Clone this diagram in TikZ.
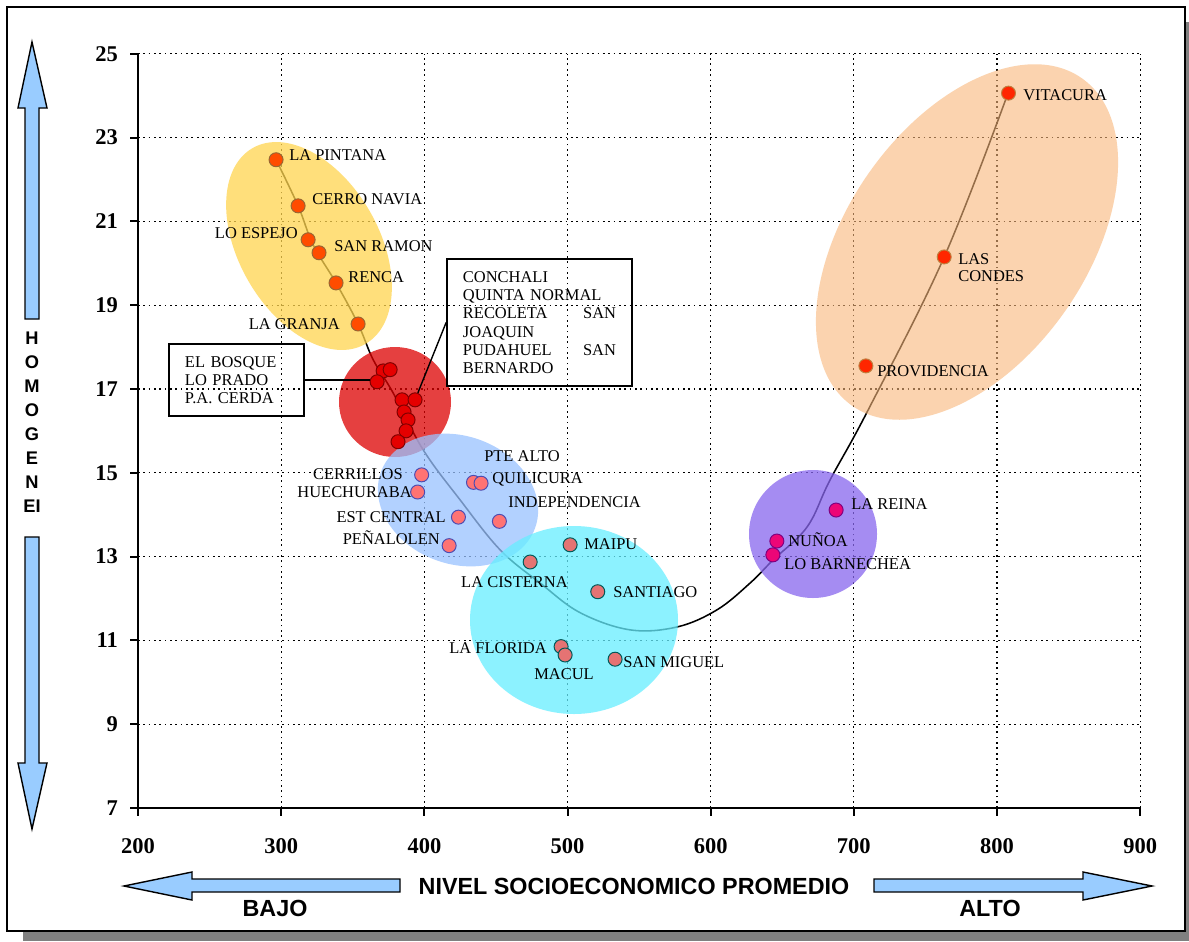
\documentclass[tikz,border=0pt]{standalone}
\usepackage{fontspec}
\setmainfont{Liberation Serif}
\setsansfont{Liberation Sans}
\usetikzlibrary{calc}
\definecolor{zamarilla}{HTML}{FFD54F}
\definecolor{zroja}{HTML}{DD0000}
\definecolor{zazul}{HTML}{99C2FF}
\definecolor{zcyan}{HTML}{66EEFF}
\definecolor{zlila}{HTML}{8866EE}
\definecolor{znaranja}{HTML}{F9B77A}
\definecolor{flechaazul}{HTML}{99CCFF}
\newcommand{\comuna}[4] % name, nivel socioeconomico, homogeneidad, style
{
	\node[#4] (#1) at (#2,#3) {};
}

\begin{document}
\begin{tikzpicture}[x=0.025cm, y=-0.025cm,
	datos/.style={shift={(-148.28,1101.23)}, x=0.035786cm, y=1.04722cm},
	rejilla/.style={line width=0.8pt, dash pattern=on 1.2pt off 2.6pt},
	eje/.style={line width=1.4pt},
	curva/.style={line width=1.1pt},
	zona/.style={fill opacity=0.75},
	punto/.style={circle, inner sep=0pt, minimum size=0.35cm, line width=0.7pt},
	pam/.style={punto, fill=orange!60!red, draw=brown!80!black},
	pro/.style={punto, fill=red!90!black, draw=red!50!black},
	paz/.style={punto, fill=red!55!white, draw=blue!40!gray},
	pcy/.style={punto, fill=red!50!white!90!black, draw=teal!70!black},
	pli/.style={punto, fill=magenta!80!red, draw=violet},
	pna/.style={punto, fill=red!70!orange, draw=brown},
	lbl/.style={inner sep=0pt, text height=7.7pt, text depth=0pt, font=\fontsize{11.7}{13}\selectfont},
	caja/.style={draw, line width=1.2pt, inner xsep=0.4cm, inner ysep=0pt, align=left, font=\fontsize{11.7}{13}\selectfont},
	marca/.style={inner sep=0pt, font=\fontsize{16}{18}\selectfont\bfseries},
	titulo/.style={inner sep=0pt, font=\sffamily\bfseries\fontsize{16.6}{18}\selectfont},
	letra/.style={inner sep=0pt, font=\sffamily\bfseries\fontsize{13}{14}\selectfont},
	flecha/.style={fill=flechaazul, draw, line width=1pt}]
	\useasboundingbox (0,0) rectangle (1189,941);

	% frame with shadow
	\fill[gray] (23,22) rectangle (1189,941);
	\draw[fill=white, line width=1.5pt] (7,7) rectangle (1185,931);

	% grid, axes and ticks
	\begin{scope}[datos]
		\foreach \v in {300,400,...,900}
			\draw[rejilla] (\v,7) -- (\v,25);
		\foreach \v in {9,11,...,25}
			\draw[rejilla] (200,\v) -- (900,\v);
		\draw[eje] (200,25) -- (200,7) -- (900,7);
		\foreach \v in {200,300,...,900}
		{
			\draw[eje] (\v,7) -- ++(0,-0.2cm);
			\node[marca] (x\v) at ([yshift=-0.95cm]\v,7) {\v};
		}
		\foreach \v in {7,9,...,25}
		{
			\draw[eje] (200,\v) -- ++(-0.2cm,0);
			\node[marca, anchor=east] (y\v) at ([xshift=-0.5cm]200,\v) {\v};
		}
		% trend line
		\draw[curva] plot[smooth, tension=0.6] coordinates {
			(296.4,22.47) (311.8,21.37) (322.3,20.44) (338.3,19.53) (353.7,18.55)
			(364.2,17.70) (378.1,16.91) (399.1,15.55) (425.0,14.35) (452.9,13.16)
			(480.8,12.37) (508.8,11.66) (543.7,11.25) (576.6,11.32) (604.5,11.73)
			(627.6,12.37) (643.6,12.92) (667.4,13.71) (683.4,14.83) (710.0,16.50)
			(763.1,20.15) (807.8,24.07)};
	\end{scope}

	% groups
	\fill[zona, zamarilla, shift={(309,246)}, rotate=-60] (0,0) ellipse [x radius=113, y radius=70];
	\fill[zona, zroja] (395,402) ellipse [x radius=56, y radius=55];
	\fill[zona, zazul, shift={(458,500)}, rotate=-20] (0,0) ellipse [x radius=82, y radius=64];
	\fill[zona, zcyan] (574,620) ellipse [x radius=104, y radius=94];
	\fill[zona, zlila] (813,534) ellipse [x radius=64, y radius=64];
	\fill[zona, znaranja, fill opacity=0.6, shift={(967,242)}, rotate=55] (0,0) ellipse [x radius=200, y radius=120];

	% comunas
	\begin{scope}[datos]
		\comuna{pintana}{296.4}{22.47}{pam};
		\comuna{cerronavia}{311.8}{21.37}{pam};
		\comuna{loespejo}{318.8}{20.56}{pam};
		\comuna{sanramon}{326.4}{20.25}{pam};
		\comuna{renca}{338.3}{19.53}{pam};
		\comuna{lagranja}{353.7}{18.55}{pam};

		\comuna{r1}{371.2}{17.43}{pro};
		\comuna{r2}{376.1}{17.46}{pro};
		\comuna{r3}{367.0}{17.17}{pro};
		\comuna{r4}{384.4}{16.74}{pro};
		\comuna{r5}{393.5}{16.74}{pro};
		\comuna{r6}{385.8}{16.45}{pro};
		\comuna{r7}{388.6}{16.26}{pro};
		\comuna{r8}{387.2}{16.00}{pro};
		\comuna{r9}{381.6}{15.74}{pro};

		\comuna{cerrillos}{398.1}{14.95}{paz};
		\comuna{huechuraba}{395.3}{14.54}{paz};
		\comuna{ptealto}{434.3}{14.77}{paz};
		\comuna{quilicura}{439.6}{14.75}{paz};
		\comuna{estcentral}{423.8}{13.94}{paz};
		\comuna{independencia}{452.4}{13.84}{paz};
		\comuna{penalolen}{417.3}{13.26}{paz};

		\comuna{maipu}{501.8}{13.28}{pcy};
		\comuna{lacisterna}{473.9}{12.87}{pcy};
		\comuna{santiago}{521.1}{12.16}{pcy};
		\comuna{laflorida}{495.5}{10.85}{pcy};
		\comuna{macul}{498.3}{10.65}{pcy};
		\comuna{sanmiguel}{533.2}{10.55}{pcy};

		\comuna{lareina}{687.6}{14.11}{pli};
		\comuna{nunoa}{646.2}{13.37}{pli};
		\comuna{lobarnechea}{643.4}{13.04}{pli};

		\comuna{vitacura}{808.0}{24.06}{pna};
		\comuna{lascondes}{763.1}{20.15}{pna};
		\comuna{providencia}{708.4}{17.55}{pna};
	\end{scope}

	% labels
	\node[lbl, anchor=west] (tpintana) at (289,155) {LA PINTANA};
	\node[lbl, anchor=west] (tcerronavia) at (312,199) {CERRO NAVIA};
	\node[lbl, anchor=east] (tloespejo) at (298,233) {LO ESPEJO};
	\node[lbl, anchor=west] (tsanramon) at (334,246) {SAN RAMON};
	\node[lbl, anchor=west] (trenca) at (348,277) {RENCA};
	\node[lbl, anchor=east] (tlagranja) at (340,324) {LA GRANJA};

	\node[lbl, anchor=west] (tptealto) at (484,456) {PTE ALTO};
	\node[lbl, anchor=west] (tquilicura) at (492,478) {QUILICURA};
	\node[lbl, anchor=east] (tcerrillos) at (403,474) {CERRILLOS};
	\node[lbl, anchor=east] (thuechuraba) at (412,492) {HUECHURABA};
	\node[lbl, anchor=east] (testcentral) at (446,517) {EST CENTRAL};
	\node[lbl, anchor=west] (tindependencia) at (508,502) {INDEPENDENCIA};
	\node[lbl, anchor=east] (tpenalolen) at (440,539) {PEÑALOLEN};

	\node[lbl, anchor=west] (tmaipu) at (584,544) {MAIPU};
	\node[lbl, anchor=east] (tlacisterna) at (568,582) {LA CISTERNA};
	\node[lbl, anchor=west] (tsantiago) at (613,592) {SANTIAGO};
	\node[lbl, anchor=east] (tlaflorida) at (547,648) {LA FLORIDA};
	\node[lbl, anchor=west] (tmacul) at (534,674) {MACUL};
	\node[lbl, anchor=west] (tsanmiguel) at (623,662) {SAN MIGUEL};

	\node[lbl, anchor=west] (tlareina) at (851,504) {LA REINA};
	\node[lbl, anchor=west] (tnunoa) at (788,541) {NUÑOA};
	\node[lbl, anchor=west] (tlobarnechea) at (784,564) {LO BARNECHEA};

	\node[lbl, anchor=west] (tvitacura) at (1023,95) {VITACURA};
	\node[inner sep=0pt, anchor=north west, align=left, font=\fontsize{11.7}{12.1}\selectfont] (tlascondes) at (958,253) {LAS\\CONDES};
	\node[lbl, anchor=west] (tprovidencia) at (877,371) {PROVIDENCIA};

	% boxes for the red group
	\node[caja, text width=2.575cm, minimum height=1.8cm] (bosque) at (236.5,380) {EL BOSQUE\\LO PRADO\\P.A. CERDA};
	\node[caja, text width=3.825cm, minimum height=3.175cm] (conchali) at (539.5,322.5)
		{CONCHALI\\QUINTA NORMAL\\RECOLETA\hfill SAN\\JOAQUIN\\PUDAHUEL\hfill SAN\\BERNARDO};
	\draw[line width=1pt] (bosque.east) -- (bosque.east -| r3.west);
	\draw[line width=1pt] (conchali.west) -- (r5);

	% vertical axis arrows
	\draw[flecha] (32,42) -- (47,108) -- (39,108) -- (39,319) -- (25,319) -- (25,108) -- (18,108) -- cycle;
	\draw[flecha] (32,829) -- (47,763) -- (39,763) -- (39,537) -- (25,537) -- (25,763) -- (18,763) -- cycle;
	\foreach \l [count=\i from 0] in {H,O,M,O,G,E,N,EI}
		\node[letra] (h\i) at (32,{338+24*\i}) {\l};

	% horizontal axis arrows
	\draw[flecha] (124,886) -- (192,872) -- (192,879) -- (400,879) -- (400,892) -- (192,892) -- (192,900) -- cycle;
	\draw[flecha] (1152,886) -- (1083,872) -- (1083,879) -- (874,879) -- (874,892) -- (1083,892) -- (1083,900) -- cycle;
	\node[titulo] (nivel) at (634,886) {NIVEL SOCIOECONOMICO PROMEDIO};
	\node[titulo] (bajo) at (275,908) {BAJO};
	\node[titulo] (alto) at (990,908) {ALTO};
\end{tikzpicture}
\end{document}
